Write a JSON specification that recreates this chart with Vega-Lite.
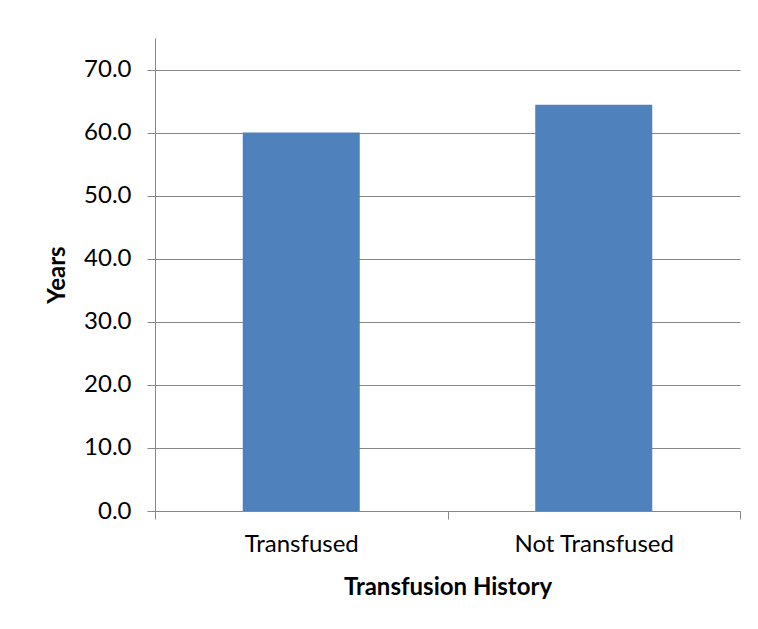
{
  "$schema": "https://vega.github.io/schema/vega-lite/v6.json",
  "autosize": "none",
  "width": 585,
  "height": 473,
  "padding": {"left": 155, "top": 38, "right": 18, "bottom": 118},
  "background": "white",
  "data": {"values": [
    {"history": "Transfused", "years": 60.0},
    {"history": "Not Transfused", "years": 64.4}
  ]},
  "mark": {"type": "bar", "color": "#4F81BD", "width": {"band": 0.4}},
  "encoding": {
    "x": {
      "field": "history", "type": "nominal", "sort": null,
      "scale": {"paddingInner": 0, "paddingOuter": 0},
      "axis": {
        "title": "Transfusion History", "labelAngle": 0,
        "tickBand": "extent", "tickSize": 8, "tickColor": "#878787",
        "domainColor": "#878787", "labelPadding": 13,
        "labelFont": "Lato", "labelFontSize": 24, "labelColor": "#000000",
        "titleFont": "Lato", "titleFontSize": 24, "titleFontWeight": "bold", "titleColor": "#000000",
        "titlePadding": 19
      }
    },
    "y": {
      "field": "years", "type": "quantitative",
      "scale": {"domain": [0, 75], "nice": false},
      "axis": {
        "title": "Years", "values": [0, 10, 20, 30, 40, 50, 60, 70], "format": ".1f",
        "grid": true, "gridColor": "#878787", "gridWidth": 1,
        "tickSize": 8, "tickColor": "#878787", "domainColor": "#878787",
        "labelPadding": 16,
        "labelFont": "Lato", "labelFontSize": 24, "labelColor": "#000000",
        "titleFont": "Lato", "titleFontSize": 24, "titleFontWeight": "bold", "titleColor": "#000000",
        "titlePadding": 14
      }
    }
  },
  "config": {"view": {"stroke": null}}
}
